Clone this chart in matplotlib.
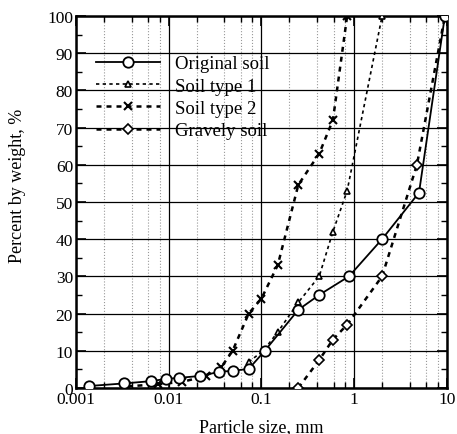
import numpy as np
import matplotlib
matplotlib.use("Agg")
import matplotlib.pyplot as plt
from matplotlib.ticker import LogLocator, MultipleLocator, FixedLocator

# --- data ---
orig_size = [0.00138, 0.0033, 0.0064, 0.0093, 0.0129, 0.0217, 0.035, 0.049, 0.073, 0.109, 0.25, 0.42, 0.88, 2.0, 5.0, 9.5]
orig_pct = [0.5, 1.2, 1.8, 2.4, 2.7, 3.2, 4.3, 4.6, 5.1, 10, 21, 25, 30, 40, 52.5, 100]

soil1_size = [0.073, 0.105, 0.15, 0.25, 0.42, 0.59, 0.84, 2.0]
soil1_pct = [7, 10, 15, 23, 30, 42, 53, 100]

soil2_size = [0.0036, 0.0077, 0.014, 0.025, 0.037, 0.049, 0.073, 0.1, 0.15, 0.25, 0.42, 0.59, 0.84]
soil2_pct = [0.4, 1.0, 1.6, 3.2, 5.6, 10, 20, 24, 33, 54.6, 63, 72, 100]

grav_size = [0.25, 0.42, 0.59, 0.84, 2.0, 4.75, 9.5]
grav_pct = [0, 7.5, 13, 17, 30, 60, 100]

plt.rcParams['font.family'] = ['Liberation Serif', 'DejaVu Serif']

fig = plt.figure(figsize=(4.57, 4.35), dpi=100)
ax = fig.add_axes([0.166, 0.106, 0.812, 0.855])

ax.plot(orig_size, orig_pct, '-', color='black', lw=1.3, marker='o', ms=7.5,
        mfc='white', mec='black', mew=1.3, label='Original soil', zorder=5)
ax.plot(soil1_size, soil1_pct, color='black', lw=1.2, ls=(0, (2, 2)), marker='^', ms=5,
        mfc='white', mec='black', mew=1.2, label='Soil type 1', zorder=4)
ax.plot(soil2_size, soil2_pct, color='black', lw=1.8, ls=(0, (2, 2)), marker='x', ms=6,
        mec='black', mew=1.5, label='Soil type 2', zorder=4)
ax.plot(grav_size, grav_pct, color='black', lw=1.8, ls=(0, (2, 2)), marker='D', ms=5,
        mfc='white', mec='black', mew=1.2, label='Gravely soil', zorder=4)

ax.set_xscale('log')
ax.set_xlim(0.001, 10)
ax.set_ylim(0, 100)
ax.xaxis.set_major_locator(FixedLocator([0.001, 0.01, 0.1, 1, 10]))
ax.set_xticklabels(['0.001', '0.01', '0.1', '1', '10'])
ax.xaxis.set_minor_locator(LogLocator(base=10, subs=[2, 4, 6, 8]))
ax.yaxis.set_major_locator(MultipleLocator(10))
ax.yaxis.set_minor_locator(MultipleLocator(5))

ax.grid(True, which='major', color='black', lw=0.9)
ax.grid(True, which='minor', axis='x', color='#999999', ls=':', lw=0.8)
ax.set_axisbelow(True)

ax.tick_params(which='both', direction='in', top=True, right=True, labelsize=12.5)
ax.tick_params(which='major', length=7, width=1.2, pad=2)
ax.tick_params(which='minor', length=4, width=1)
for s in ax.spines.values():
    s.set_linewidth(1.8)

ax.set_xlabel('Particle size, mm', fontsize=13, labelpad=8)
ax.set_ylabel('Percent by weight, %', fontsize=13)
ax.yaxis.set_label_coords(-0.135, 0.546)

leg = ax.legend(loc='upper left', bbox_to_anchor=(0.02, 0.93), frameon=False,
                fontsize=13.5, handlelength=3.4, labelspacing=0.28, borderaxespad=0.3)

fig.savefig('out.png', dpi=100)
